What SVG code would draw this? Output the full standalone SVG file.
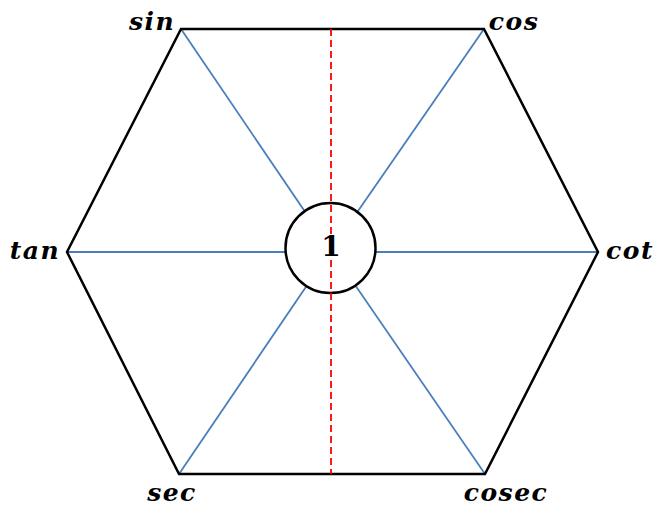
<svg xmlns="http://www.w3.org/2000/svg" width="655" height="506" viewBox="0 0 655 506">
<style>
.lbl{font-family:"DejaVu Serif","Liberation Serif",serif;font-weight:bold;font-style:italic;font-size:25px;letter-spacing:1.5px;fill:#000}
.spoke{stroke:#4a7ebb;stroke-width:1.8;fill:none}
</style>
<rect width="655" height="506" fill="#fff"/>
<g id="connectors">
<line class="spoke" x1="181" y1="29" x2="331" y2="250"/>
<line class="spoke" x1="484" y1="29" x2="331" y2="250"/>
<line class="spoke" x1="67" y1="252" x2="331" y2="252"/>
<line class="spoke" x1="598" y1="252" x2="331" y2="252"/>
<line class="spoke" x1="179" y1="474" x2="331" y2="250"/>
<line class="spoke" x1="485" y1="474" x2="331" y2="250"/>
</g>
<g id="hexagon">
<polygon points="181,29 484,29 598,252 485,474 179,474 67,252" fill="none" stroke="#000" stroke-width="2.5" stroke-linejoin="miter"/>
</g>
<g id="center">
<circle cx="330.5" cy="248" r="45" fill="#fff" stroke="#000" stroke-width="2.5"/>
</g>
<g id="axis">
<line x1="331" y1="29" x2="331" y2="474" stroke="#ff0000" stroke-width="1.8" stroke-dasharray="7,4"/>
</g>
<g id="center-label"><text x="331" y="256" text-anchor="middle" style="font-family:'DejaVu Serif','Liberation Serif',serif;font-weight:bold;font-size:28px">1</text></g>
<g id="n-sin"><text class="lbl" x="152" y="30" text-anchor="middle">sin</text></g>
<g id="n-cos"><text class="lbl" x="514" y="30" text-anchor="middle">cos</text></g>
<g id="n-tan"><text class="lbl" x="35" y="259" text-anchor="middle">tan</text></g>
<g id="n-cot"><text class="lbl" x="630" y="259" text-anchor="middle">cot</text></g>
<g id="n-sec"><text class="lbl" x="172" y="501" text-anchor="middle">sec</text></g>
<g id="n-cosec"><text class="lbl" x="506" y="501" text-anchor="middle">cosec</text></g>
</svg>
